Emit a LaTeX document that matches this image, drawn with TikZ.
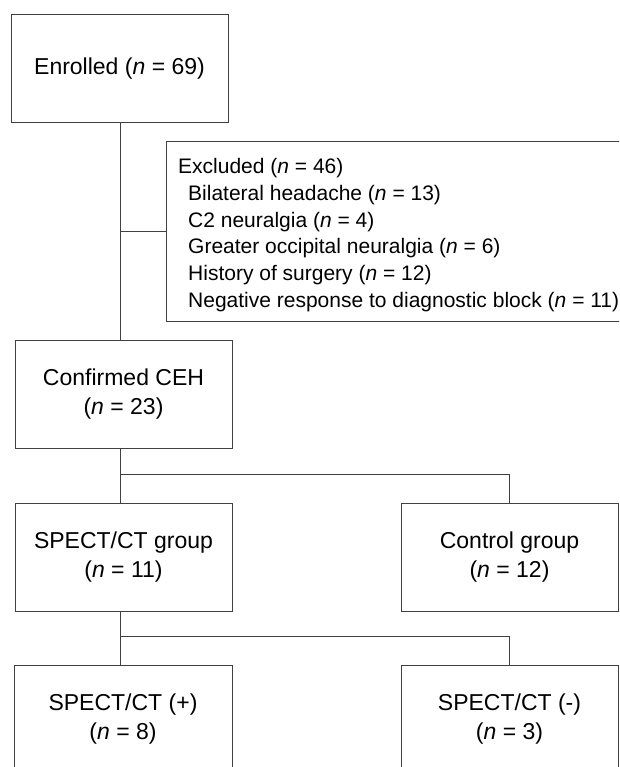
\documentclass[tikz,border=0pt]{standalone}
\usepackage{fontspec}
\setmainfont{Liberation Sans}
\usetikzlibrary{calc}
\definecolor{linec}{HTML}{404040}
\newcommand\mainsz{\fontsize{23}{28.5}\selectfont}
\newcommand\excsz{\fontsize{21}{26.7}\selectfont}
\begin{document}
\begin{tikzpicture}[x=1pt,y=-1pt,
  box/.style={draw=linec, line width=1pt, minimum width=217pt, minimum height=108pt,
              inner sep=0pt, align=center, font=\mainsz, text=black},
  conn/.style={draw=linec, line width=1pt}]
\clip (0,0) rectangle (619,767);
\fill[white] (0,0) rectangle (619,767);

\node[box] (enrolled) at (119.5,69) {Enrolled (\textit{n} = 69)};
\node[box, minimum width=470pt, minimum height=179pt] (excluded) at (401,231.5) {};
\node[anchor=west, inner sep=0pt, align=left, font=\excsz] (exctext) at (178,235)
  {Excluded (\textit{n} = 46)\\
   \hspace*{10pt}Bilateral headache (\textit{n} = 13)\\
   \hspace*{10pt}C2 neuralgia (\textit{n} = 4)\\
   \hspace*{10pt}Greater occipital neuralgia (\textit{n} = 6)\\
   \hspace*{10pt}History of surgery (\textit{n} = 12)\\
   \hspace*{10pt}Negative response to diagnostic block (\textit{n} = 11)};
\node[box] (confirmed) at (123.5,394) {Confirmed CEH\\(\textit{n} = 23)};
\node[box] (spectgrp) at (123.5,557) {SPECT/CT group\\(\textit{n} = 11)};
\node[box] (control) at (509.5,557) {Control group\\(\textit{n} = 12)};
\node[box, minimum width=218pt] (plus) at (123,719) {SPECT/CT (+)\\(\textit{n} = 8)};
\node[box] (minus) at (509.5,719) {SPECT/CT (-)\\(\textit{n} = 3)};

\coordinate (trunk) at (120,0);
\coordinate (b1) at (0,474);
\coordinate (b2) at (0,636);

\draw[conn] (trunk |- enrolled.south) -- (trunk |- confirmed.north);
\draw[conn] (trunk |- excluded.west) -- (excluded.west);
\draw[conn] (trunk |- confirmed.south) -- (trunk |- spectgrp.north);
\draw[conn] (trunk |- b1) -| (control.north);
\draw[conn] (trunk |- spectgrp.south) -- (trunk |- plus.north);
\draw[conn] (trunk |- b2) -| (minus.north);
\end{tikzpicture}
\end{document}
